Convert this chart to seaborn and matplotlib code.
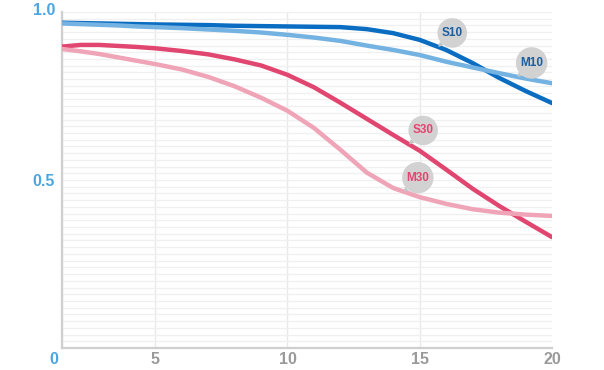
import numpy as np
import pandas as pd
import matplotlib
matplotlib.use("Agg")
import matplotlib.pyplot as plt
import matplotlib.transforms as mtransforms
from matplotlib.ticker import MultipleLocator
import seaborn as sns

# image height (mm) and MTF contrast
x_vals = [0, 1, 2, 3, 4, 5, 6, 7, 8, 9, 10, 11, 12, 13, 14, 15, 16, 17, 18, 19, 20]
s10 = [0.968, 0.967, 0.966, 0.965, 0.964, 0.963, 0.962, 0.961, 0.959, 0.958, 0.957,
       0.956, 0.955, 0.949, 0.937, 0.917, 0.887, 0.848, 0.804, 0.765, 0.729]
m10 = [0.966, 0.964, 0.962, 0.960, 0.957, 0.955, 0.952, 0.948, 0.944, 0.939, 0.932,
       0.924, 0.914, 0.900, 0.887, 0.872, 0.852, 0.835, 0.818, 0.802, 0.788]
s30 = [0.897, 0.902, 0.902, 0.899, 0.896, 0.892, 0.884, 0.874, 0.859, 0.841, 0.813,
       0.776, 0.730, 0.682, 0.634, 0.587, 0.531, 0.474, 0.423, 0.376, 0.330]
m30 = [0.890, 0.883, 0.875, 0.865, 0.855, 0.845, 0.829, 0.807, 0.779, 0.745, 0.706,
       0.655, 0.590, 0.522, 0.476, 0.449, 0.429, 0.413, 0.403, 0.397, 0.393]

series = {"S10": s10, "M10": m10, "S30": s30, "M30": m30}
colors = {"S10": "#0b6dc2", "M10": "#74b2e2", "S30": "#e0466f", "M30": "#f0a4b7"}
label_colors = {"S10": "#1c5e9e", "M10": "#1c5e9e", "S30": "#e0466f", "M30": "#e0466f"}
# where each callout's tail touches its curve (x position)
callout_x = {"S10": 15.7, "M10": 18.7, "S30": 14.6, "M30": 14.4}

x_ticks = [0, 5, 10, 15, 20]
x_tick_labels = ["0", "5", "10", "15", "20"]
y_ticks = [0.5, 1.0]
y_tick_labels = ["0.5", "1.0"]

df = pd.concat([pd.DataFrame({"height": x_vals, "mtf": v, "curve": k}) for k, v in series.items()])

sns.set_style("white")
plt.rcParams["font.family"] = ["Liberation Sans", "DejaVu Sans"]

fig = plt.figure(figsize=(6.04, 3.70), dpi=100)
ax = fig.add_axes([62 / 604, 22 / 370, 490 / 604, 336 / 370])

# the first interval on the original chart is drawn narrower than the others
k = 93 / 132
fwd = lambda v: np.where(v < 5, v * k, v - 5 + 5 * k)
inv = lambda v: np.where(v < 5 * k, v / k, v + 5 - 5 * k)
ax.set_xscale("function", functions=(fwd, inv))

sns.lineplot(data=df, x="height", y="mtf", hue="curve", palette=colors,
             linewidth=3.2, legend=False, ax=ax, zorder=3)

ax.set_xlim(0, 20)
ax.set_ylim(0, 1.0)
ax.set_xticks(x_ticks)
ax.set_xticklabels(x_tick_labels)
ax.set_yticks(y_ticks)
ax.set_yticklabels(y_tick_labels)
ax.yaxis.set_minor_locator(MultipleLocator(0.02))
ax.set_xlabel("")
ax.set_ylabel("")

ax.grid(True, which="major", axis="x", color="#e9e9e9", linewidth=1)
ax.grid(True, which="both", axis="y", color="#f0f0f0", linewidth=1)
ax.xaxis.get_gridlines()[-1].set_visible(False)
ax.set_axisbelow(True)

for side in ["top", "right"]:
    ax.spines[side].set_visible(False)
for side in ["left", "bottom"]:
    ax.spines[side].set_color("#cfcfcf")
    ax.spines[side].set_linewidth(1.6)

ax.tick_params(axis="both", which="both", length=0)
ax.tick_params(axis="x", pad=3, labelsize=11.5, labelcolor="#9a9a9a")
ax.tick_params(axis="y", pad=5, labelsize=11.5, labelcolor="#4da6e0")
for t in ax.get_xticklabels() + ax.get_yticklabels():
    t.set_fontweight("bold")
for t in ax.get_xticklabels():
    if t.get_text() == "0":
        t.set_color("#4da6e0")
        t.set_transform(t.get_transform() + mtransforms.ScaledTranslation(-8 / 100, 0, fig.dpi_scale_trans))
for t in ax.get_yticklabels():
    if t.get_text() == "1.0":
        t.set_transform(t.get_transform() + mtransforms.ScaledTranslation(0, 3 / 100, fig.dpi_scale_trans))

for name, xc in callout_x.items():
    yc = np.interp(xc, x_vals, series[name])
    ax.annotate(name, xy=(xc, yc), xytext=(14, 14), textcoords="offset pixels",
                ha="center", va="center", fontsize=8.5, fontweight="bold",
                color=label_colors[name], zorder=5,
                bbox=dict(boxstyle="circle,pad=0.36", fc="#d2d2d2", ec="none"),
                arrowprops=dict(arrowstyle="wedge,tail_width=0.45", fc="#c4c4c4",
                                ec="none", shrinkA=0, shrinkB=0))

fig.savefig("out.png", dpi=100)
